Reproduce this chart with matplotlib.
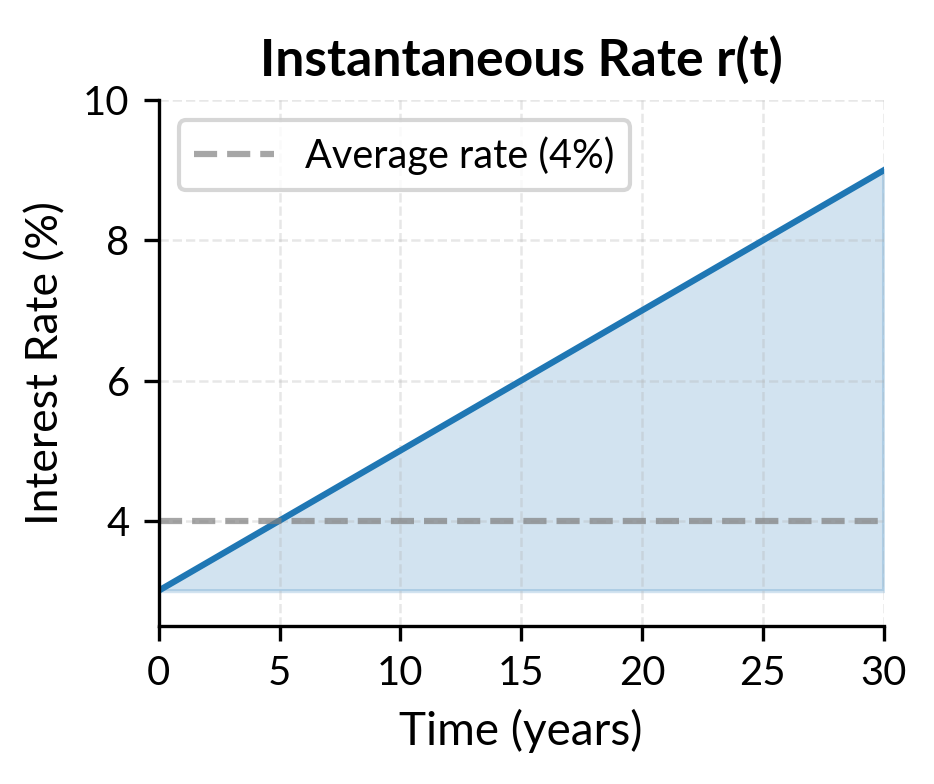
import numpy as np
import matplotlib
matplotlib.use("Agg")
import matplotlib.pyplot as plt

plt.rcParams['font.family'] = ['Lato', 'DejaVu Sans']

time_years = [0, 30]
rate_pct = [3, 9]
avg_rate = 4
x_ticks = [0, 5, 10, 15, 20, 25, 30]
y_ticks = [4, 6, 8, 10]

fig = plt.figure(figsize=(934/300, 784/300), dpi=300)
ax = fig.add_axes([0.170, 0.202, 0.776, 0.670])

ax.plot(time_years, rate_pct, color='#1f77b4', lw=1.5)
ax.fill_between(time_years, rate_pct[0], rate_pct, color='#1f77b4', alpha=0.2)
ax.axhline(avg_rate, color='gray', ls='--', lw=1.5, alpha=0.7, label='Average rate (4%)')

ax.set_xlim(0, 30)
ax.set_ylim(2.5, 10)
ax.set_xticks(x_ticks)
ax.set_yticks(y_ticks)
ax.tick_params(labelsize=9.6, width=0.8, length=3.5)
ax.grid(True, ls='--', alpha=0.3, lw=0.6)
for s in ['top', 'right']:
    ax.spines[s].set_visible(False)
for s in ['left', 'bottom']:
    ax.spines[s].set_linewidth(0.8)

ax.set_xlabel('Time (years)', fontsize=11)
ax.set_ylabel('Interest Rate (%)', fontsize=10.7)
ax.set_title('Instantaneous Rate r(t)', fontsize=12.4, fontweight='bold')
ax.legend(loc='upper left', fontsize=9.5)

fig.savefig('out.png', dpi=300)
